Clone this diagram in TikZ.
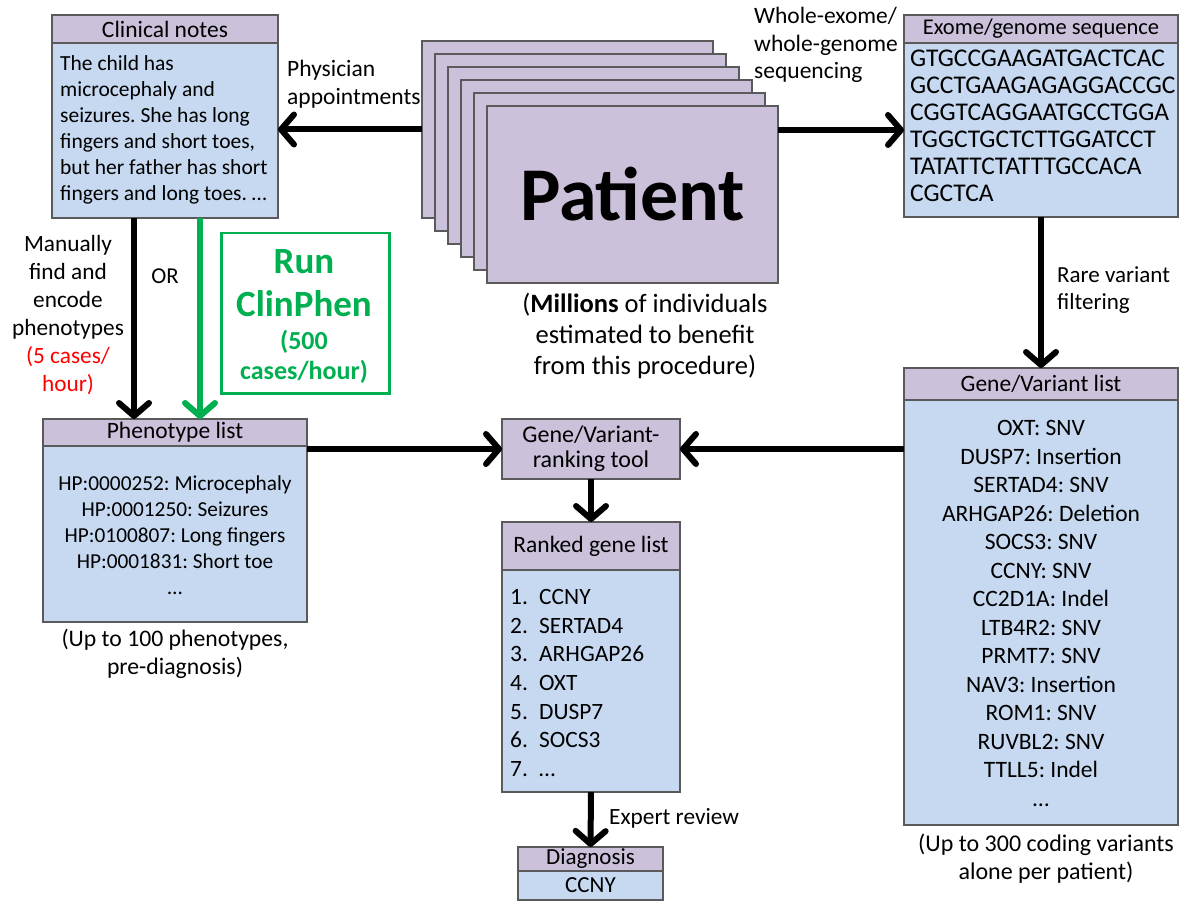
\documentclass[tikz,border=0pt]{standalone}
\usepackage{fontspec}
\setmainfont{Carlito}
\usetikzlibrary{arrows.meta,calc,shadows}
\definecolor{hdrfill}{HTML}{CCC1DA}
\definecolor{bodyfill}{HTML}{C6D9F1}
\definecolor{edge}{HTML}{5A5A5A}
\definecolor{cpgreen}{HTML}{00B050}
\definecolor{cpred}{HTML}{FF0000}
\newcommand{\fs}[2]{\fontsize{#1}{#2}\selectfont}
\frenchspacing
\begin{document}
\begin{tikzpicture}[x=1pt,y=-1pt,
 box/.style={draw=edge, line width=1.2pt, inner sep=0pt, outer sep=0pt, anchor=north west, rectangle,
   drop shadow={shadow xshift=1.2pt,shadow yshift=-1.2pt,fill=black,opacity=0.25}},
 hdr/.style={box, fill=hdrfill},
 bod/.style={box, fill=bodyfill},
 arr/.style={line width=6pt, -{Straight Barb[length=13pt,width=30pt,round]}},
 txt/.style={inner sep=0pt, align=center},
]
\useasboundingbox[fill=white] (0,0) rectangle (1181,901);

% Clinical notes
\node[hdr, minimum width=226pt, minimum height=28pt] (cnhdr) at (52,15) {};
\node[txt, font=\fs{23.5}{26}] at (cnhdr.center) {Clinical notes};
\node[bod, minimum width=226pt, minimum height=175pt] (cnbody) at (52,43) {};
\node[txt, align=left, anchor=west, font=\fs{21.5}{26}] (cntext) at (60,130)
 {The child has\\microcephaly and\\seizures. She has long\\fingers and short toes,\\but her father has short\\fingers and long toes. \dots};

% Patient stack
\foreach \i in {0,...,5}
  \node[hdr, minimum width=291pt, minimum height=177pt] (p\i) at ({422+13*\i},{41+13*\i}) {};
\node[txt, font=\fs{76}{80}\bfseries] (pt) at (p5.center) {Patient};
\node[txt, font=\fs{26.5}{31}] (mil) at (645,336) {(\textbf{Millions} of individuals\\estimated to benefit\\from this procedure)};

\node[txt, align=left, anchor=west, font=\fs{23.5}{28}] (phys) at (287,84) {Physician\\appointments};

% Exome
\node[hdr, minimum width=274pt, minimum height=28pt] (exhdr) at (904,15) {};
\node[txt, font=\fs{22.5}{26}] at (exhdr.center) {Exome/genome sequence};
\node[bod, minimum width=274pt, minimum height=174pt] (exbody) at (904,43) {};
\node[txt, align=left, anchor=west, font=\fs{25.5}{27}] (seq) at (910,125.5)
 {GTGCCGAAGATGACTCAC\\GCCTGAAGAGAGGACCGC\\CGGTCAGGAATGCCTGGA\\TGGCTGCTCTTGGATCCT\\TATATTCTATTTGCCACA\\CGCTCA};
\node[txt, align=left, anchor=west, font=\fs{23.5}{27.5}] (wes) at (754,45) {Whole-exome/\\whole-genome\\sequencing};

% Gene/Variant list
\node[hdr, minimum width=274pt, minimum height=32pt] (gvhdr) at (904,368) {};
\node[txt, font=\fs{23.5}{26}] at (gvhdr.center) {Gene/Variant list};
\node[bod, minimum width=274pt, minimum height=425pt] (gvbody) at (904,400) {};
\node[txt, font=\fs{23.5}{28.5}] (gvtext) at (1041,613.5)
 {OXT: SNV\\DUSP7: Insertion\\SERTAD4: SNV\\ARHGAP26: Deletion\\SOCS3: SNV\\CCNY: SNV\\CC2D1A: Indel\\LTB4R2: SNV\\PRMT7: SNV\\NAV3: Insertion\\ROM1: SNV\\RUVBL2: SNV\\TTLL5: Indel\\\dots};
\node[txt, font=\fs{24}{28}] (gvcap) at (1046,859) {(Up to 300 coding variants\\alone per patient)};
\node[txt, align=left, anchor=west, font=\fs{23}{27}] (rare) at (1057,290) {Rare variant\\filtering};

% Ranking tool
\node[hdr, minimum width=178pt, minimum height=60pt] (rank) at (502,419) {};
\node[txt, font=\fs{24}{25}] at (rank.center) {Gene/Variant-\\ranking tool};

% Ranked gene list
\node[hdr, minimum width=178pt, minimum height=48pt] (rlhdr) at (502,522) {};
\node[txt, font=\fs{23.5}{26}] at (rlhdr.center) {Ranked gene list};
\node[bod, minimum width=178pt, minimum height=222pt] (rlbody) at (502,570) {};
\node[txt, align=left, anchor=west, font=\fs{23.4}{28.6}] (rltext) at (510,683)
 {\makebox[29pt][l]{1.}CCNY\\\makebox[29pt][l]{2.}SERTAD4\\\makebox[29pt][l]{3.}ARHGAP26\\\makebox[29pt][l]{4.}OXT\\\makebox[29pt][l]{5.}DUSP7\\\makebox[29pt][l]{6.}SOCS3\\\makebox[29pt][l]{7.}\dots};

% Diagnosis
\node[hdr, minimum width=145pt, minimum height=24pt] (dghdr) at (518,847) {};
\node[txt, font=\fs{23}{24}] at (dghdr.center) {Diagnosis};
\node[bod, minimum width=145pt, minimum height=29pt] (dgbody) at (518,871) {};
\node[txt, font=\fs{23}{24}] at (dgbody.center) {CCNY};
\node[txt, anchor=west, font=\fs{23.3}{26}] (expert) at (609,818) {Expert review};

% Phenotype list
\node[hdr, minimum width=264pt, minimum height=27pt] (phhdr) at (43,419) {};
\node[txt, font=\fs{23.5}{26}] at (phhdr.center) {Phenotype list};
\node[bod, minimum width=264pt, minimum height=176pt] (phbody) at (43,446) {};
\node[txt, font=\fs{21.3}{26}] (phtext) at (175,535)
 {HP:0000252: Microcephaly\\HP:0001250: Seizures\\HP:0100807: Long fingers\\HP:0001831: Short toe\\\dots};
\node[txt, font=\fs{23.7}{28}] (phcap) at (175,654) {(Up to 100 phenotypes,\\pre-diagnosis)};

% Manual path labels
\node[txt, font=\fs{23.3}{28}] (manual) at (68,315)
 {Manually\\find and\\encode\\phenotypes\\\textcolor{cpred}{(5 cases/}\\\textcolor{cpred}{hour)}};
\node[txt, font=\fs{22.7}{26}] (or) at (165,276) {OR};

% ClinPhen box
\node[draw=cpgreen, line width=2.5pt, rectangle, anchor=north west, inner sep=0pt,
      minimum width=168pt, minimum height=160pt] (cp) at (220,232) {};
\node[txt, text=cpgreen, font=\fs{37}{43}\bfseries] (cp1) at (304,283) {Run\\ClinPhen};
\node[txt, text=cpgreen, font=\fs{26}{30}\bfseries] (cp2) at (304,357) {(500\\cases/hour)};

% Arrows
\draw[arr] (p0.west) -- (p0.west -| cnbody.east);
\draw[arr] (p5.east |- exbody.west) -- (exbody.west);
\draw[arr] (exbody.south) -- (gvhdr.north);
\draw[arr] (rank.east -| gvbody.west) -- (rank.east);
\draw[arr] (rank.west -| phbody.east) -- (rank.west);
\draw[arr] (rank.south) -- (rlhdr.north);
\draw[arr] (rlbody.south) -- (dghdr.north);
\coordinate (bl) at ([xshift=-31pt]cnbody.south);
\draw[arr] (bl) -- (bl |- phhdr.north);
\coordinate (gr) at ([xshift=35pt]cnbody.south);
\draw[arr, draw=cpgreen] (gr) -- (gr |- phhdr.north);
\end{tikzpicture}
\end{document}
